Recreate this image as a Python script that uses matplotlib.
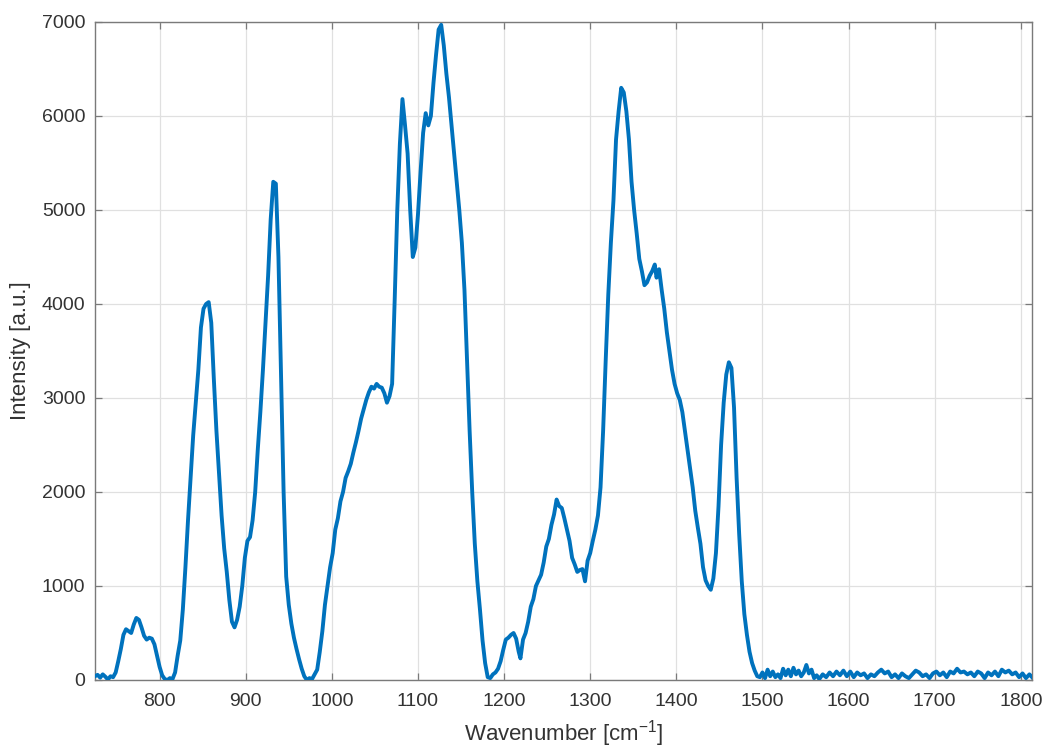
import matplotlib
matplotlib.use("Agg")
import matplotlib.pyplot as plt
import numpy as np

# Raman spectrum, values
wavenumber = [
    725, 728, 731, 734, 737, 740, 743, 746, 749, 752, 755, 758, 761, 764, 767, 770,
    773, 776, 779, 782, 785, 788, 791, 794, 797, 800, 803, 806, 809, 812, 815, 818,
    821, 824, 827, 830, 833, 836, 839, 842, 845, 848, 851, 854, 857, 860, 863, 866,
    869, 872, 875, 878, 881, 884, 887, 890, 893, 896, 899, 902, 905, 908, 911, 914,
    917, 920, 923, 926, 929, 932, 935, 938, 941, 944, 947, 950, 953, 956, 959, 962,
    965, 968, 971, 974, 977, 980, 983, 986, 989, 992, 995, 998, 1001, 1004, 1007, 1010,
    1013, 1016, 1019, 1022, 1025, 1028, 1031, 1034, 1037, 1040, 1043, 1046, 1049, 1052,
    1055, 1058, 1061, 1064, 1067, 1070, 1073, 1076, 1079, 1082, 1085, 1088, 1091, 1094,
    1097, 1100, 1103, 1106, 1109, 1112, 1115, 1118, 1121, 1124, 1127, 1130, 1133, 1136,
    1139, 1142, 1145, 1148, 1151, 1154, 1157, 1160, 1163, 1166, 1169, 1172, 1175, 1178,
    1181, 1184, 1187, 1190, 1193, 1196, 1199, 1202, 1205, 1208, 1211, 1214, 1217, 1219,
    1222, 1225, 1228, 1231, 1234, 1237, 1240, 1243, 1246, 1249, 1252, 1255, 1258, 1261,
    1264, 1267, 1270, 1273, 1276, 1279, 1282, 1285, 1288, 1291, 1294, 1297, 1300, 1303,
    1306, 1309, 1312, 1315, 1318, 1321, 1324, 1327, 1330, 1333, 1336, 1339, 1342, 1345,
    1348, 1351, 1354, 1357, 1360, 1363, 1366, 1369, 1372, 1375, 1377, 1380, 1383, 1386,
    1389, 1392, 1395, 1398, 1401, 1404, 1407, 1410, 1413, 1416, 1419, 1422, 1425, 1428,
    1431, 1434, 1437, 1440, 1443, 1446, 1449, 1452, 1455, 1458, 1461, 1464, 1467, 1470,
    1473, 1476, 1479, 1482, 1485, 1488, 1491, 1494,
    1497, 1500, 1503, 1506, 1509, 1512, 1515, 1518, 1521, 1524, 1527, 1530, 1533, 1536,
    1539, 1542, 1545, 1548, 1551, 1554, 1557, 1560, 1563, 1566, 1570, 1574, 1578, 1582,
    1586, 1590, 1594, 1598, 1602, 1606, 1610, 1614, 1618, 1622, 1626, 1630, 1634, 1638,
    1642, 1646, 1650, 1654, 1658, 1662, 1666, 1670, 1674, 1678, 1682, 1686, 1690, 1694,
    1698, 1702, 1706, 1710, 1714, 1718, 1722, 1726, 1730, 1734, 1738, 1742, 1746, 1750,
    1754, 1758, 1762, 1766, 1770, 1774, 1778, 1782, 1786, 1790, 1794, 1798, 1802, 1806,
    1810, 1813,
]
intensity = [
    40, 55, 25, 60, 35, 5, 40, 30, 80, 200, 330, 480, 540, 520, 500, 590,
    660, 640, 560, 470, 430, 450, 440, 380, 260, 140, 50, 10, 0, 20, 10, 80,
    260, 420, 750, 1200, 1700, 2150, 2600, 2950, 3300, 3750, 3950, 4000, 4020, 3800, 3200, 2650,
    2200, 1750, 1400, 1150, 850, 620, 560, 640, 780, 1000, 1300, 1480, 1520, 1700, 2000, 2450,
    2850, 3300, 3800, 4300, 4900, 5300, 5280, 4500, 3250, 2000, 1100, 800, 600, 450, 330, 220,
    120, 40, 0, 20, 10, 60, 110, 300, 520, 800, 1000, 1200, 1350, 1600, 1720, 1900,
    2000, 2150, 2220, 2300, 2420, 2530, 2650, 2780, 2880, 2980, 3060, 3120, 3100, 3150,
    3120, 3110, 3050, 2950, 3020, 3150, 4050, 5000, 5700, 6180, 5900, 5600, 5000, 4500,
    4600, 4950, 5400, 5820, 6030, 5900, 6000, 6350, 6650, 6920, 6970, 6750, 6450, 6200,
    5900, 5600, 5300, 5000, 4650, 4150, 3400, 2650, 2000, 1450, 1050, 750, 420, 180,
    30, 20, 60, 80, 120, 200, 320, 430, 450, 480, 500, 440, 300, 230,
    430, 500, 620, 780, 860, 1000, 1060, 1120, 1250, 1420, 1500, 1650, 1760, 1920,
    1850, 1830, 1720, 1600, 1480, 1300, 1230, 1150, 1170, 1180, 1050, 1270, 1350, 1480,
    1600, 1750, 2050, 2650, 3400, 4100, 4650, 5100, 5750, 6050, 6300, 6250, 6050, 5750,
    5300, 5000, 4750, 4480, 4350, 4200, 4230, 4300, 4350, 4420, 4280, 4370, 4150, 3950,
    3700, 3500, 3300, 3150, 3050, 2980, 2850, 2650, 2450, 2250, 2050, 1800, 1620, 1450,
    1200, 1060, 1000, 960, 1080, 1350, 1850, 2500, 2950, 3250, 3380, 3320, 2900, 2150,
    1550, 1050, 700, 480, 300, 180, 100, 40,
    30, 80, 20, 110, 40, 90, 30, 60, 20, 120, 50, 110, 40, 130,
    60, 100, 40, 80, 160, 70, 110, 20, 50, 10, 60, 30, 80, 40,
    90, 50, 100, 40, 90, 30, 80, 50, 70, 20, 60, 40, 80, 110,
    70, 90, 30, 60, 20, 70, 40, 20, 60, 100, 80, 40, 60, 20,
    70, 90, 50, 80, 30, 90, 70, 120, 80, 90, 60, 80, 40, 90,
    70, 20, 80, 50, 90, 40, 110, 80, 100, 60, 80, 30, 70, 20,
    60, 30,
]

x_ticks = np.arange(800, 1900, 100)
y_ticks = np.arange(0, 8000, 1000)

plt.rcParams["font.family"] = ["Liberation Sans", "DejaVu Sans"]
plt.rcParams["mathtext.default"] = "regular"

fig = plt.figure(figsize=(10.45, 7.51), dpi=100)
ax = fig.add_axes([95 / 1045, 1 - 680 / 751, (1032 - 95) / 1045, (680 - 22) / 751])

ax.plot(wavenumber, intensity, color="#0072BD", linewidth=2.8, zorder=3)

ax.set_xlim(725, 1813)
ax.set_ylim(0, 7000)
ax.set_xticks(x_ticks)
ax.set_yticks(y_ticks)

# MATLAB-like box with inward ticks on all sides
ax.grid(True, color="#e0e0e0", linewidth=0.9, zorder=0)
ax.set_axisbelow(True)
for side in ax.spines.values():
    side.set_color("#7a7a7a")
    side.set_linewidth(1.0)
ax.tick_params(direction="in", length=5, width=0.9, color="#7a7a7a",
               top=True, right=True, labelsize=14, labelcolor="#333333")
ax.tick_params(axis="x", pad=9)
ax.tick_params(axis="y", pad=7)

ax.set_xlabel("Wavenumber [cm$^{-1}$]", fontsize=16, color="#333333", labelpad=6)
ax.set_ylabel("Intensity [a.u.]", fontsize=16, color="#333333", labelpad=8)

fig.savefig("out.png", dpi=100)
